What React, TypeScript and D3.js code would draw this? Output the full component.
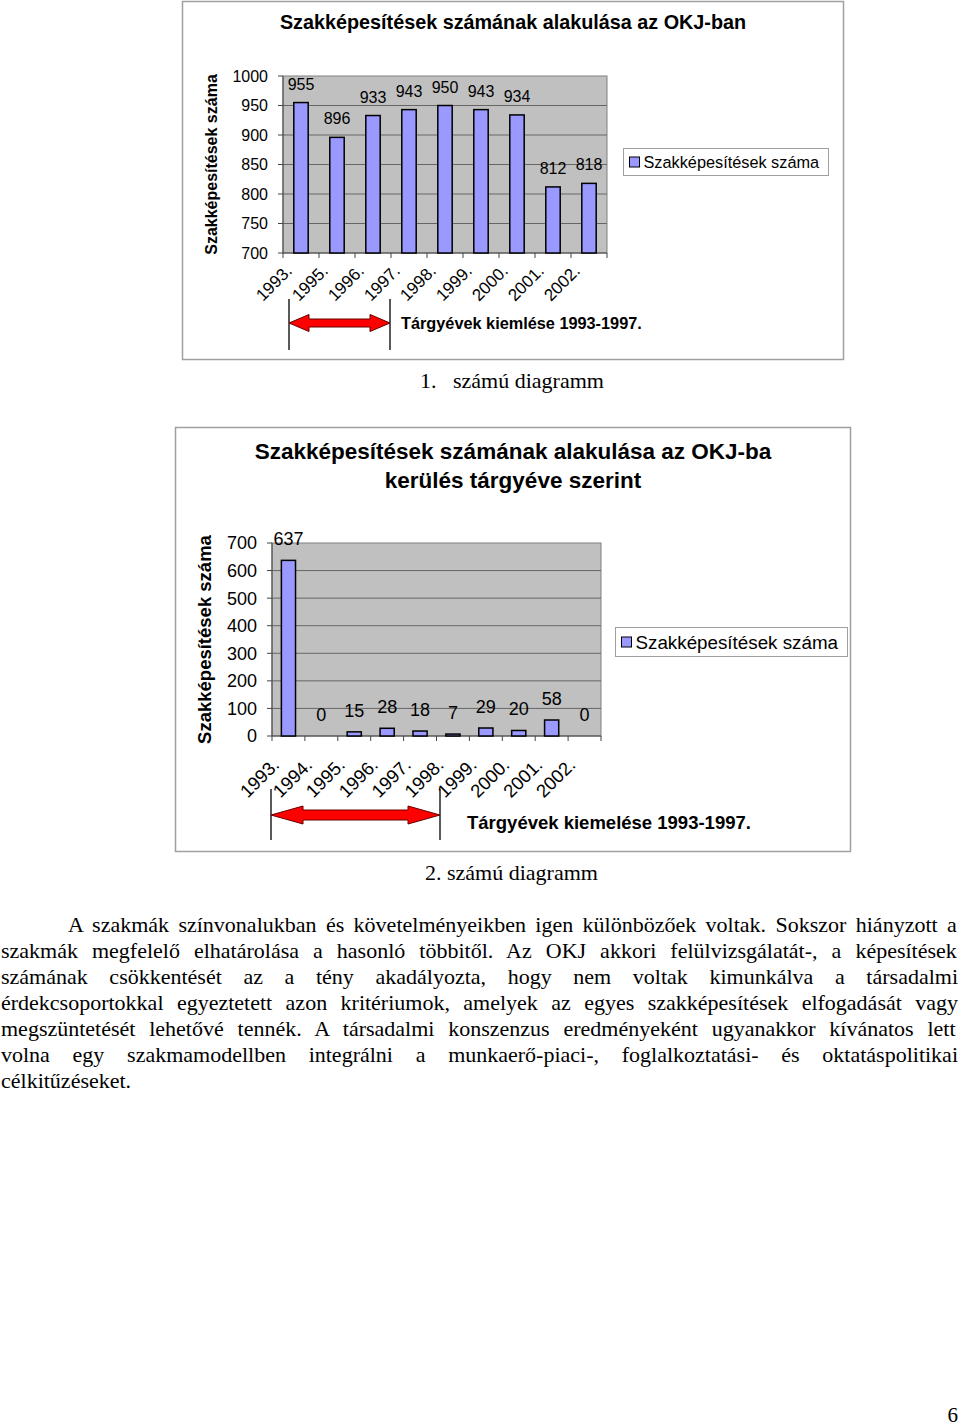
import React from 'react';
import * as d3 from 'd3';

// ---------- DATA ----------
const years1 = ['1993.', '1995.', '1996.', '1997.', '1998.', '1999.', '2000.', '2001.', '2002.'];
const values1 = [955, 896, 933, 943, 950, 943, 934, 812, 818];
const ticks1 = [700, 750, 800, 850, 900, 950, 1000];

const years2 = ['1993.', '1994.', '1995.', '1996.', '1997.', '1998.', '1999.', '2000.', '2001.', '2002.'];
const values2 = [637, 0, 15, 28, 18, 7, 29, 20, 58, 0];
const ticks2 = [0, 100, 200, 300, 400, 500, 600, 700];

const title1Lines = ['Szakképesítések számának alakulása az OKJ-ban'];
const title2Lines = ['Szakképesítések számának alakulása az OKJ-ba', 'kerülés tárgyéve szerint'];
const seriesName = 'Szakképesítések száma';
const axisTitle = 'Szakképesítések száma';
const note1 = 'Tárgyévek kiemlése 1993-1997.';
const note2 = 'Tárgyévek kiemelése 1993-1997.';
const caption1 = ['1.', 'számú diagramm'];
const caption2 = '2. számú diagramm';
const paragraphLines = [
  'A szakmák színvonalukban és követelményeikben igen különbözőek voltak. Sokszor hiányzott a',
  'szakmák megfelelő elhatárolása a hasonló többitől. Az OKJ akkori felülvizsgálatát-, a képesítések',
  'számának csökkentését az a tény akadályozta, hogy nem voltak kimunkálva a társadalmi',
  'érdekcsoportokkal egyeztetett azon kritériumok, amelyek az egyes szakképesítések elfogadását vagy',
  'megszüntetését lehetővé tennék. A társadalmi konszenzus eredményeként ugyanakkor kívánatos lett',
  'volna egy szakmamodellben integrálni a munkaerő-piaci-, foglalkoztatási- és oktatáspolitikai',
  'célkitűzéseket.',
];
const pageNumber = '6';

// ---------- STYLE ----------
const SANS = "'Liberation Sans', Arial, sans-serif";
const SERIF = "'Liberation Serif', 'Times New Roman', serif";
const BAR_FILL = '#9999FF';
const PLOT_BG = '#C0C0C0';
const FRAME = '#A0A0A0';

let _ctx: CanvasRenderingContext2D | null = null;
function measure(text: string, font: string): number {
  if (!_ctx) {
    const c = document.createElement('canvas');
    _ctx = c.getContext('2d');
  }
  if (!_ctx) return text.length * 9;
  _ctx.font = font;
  return _ctx.measureText(text).width;
}

type ChartCfg = {
  frame: { x: number; y: number; w: number; h: number };
  titleLines: string[];
  titleY: number;
  titleSize: number;
  titleLineH: number;
  plot: { x0: number; x1: number; y0: number; y1: number };
  domain: [number, number];
  ticks: number[];
  cats: string[];
  vals: number[];
  fontTick: number;
  fontLabel: number;
  fontCat: number;
  labelGap: number;
  catDx: number;
  catDy: number;
  axisTitleX: number;
  axisTitleSize: number;
  legend: { x: number; y: number; w: number; h: number; size: number };
  paddingInner: number;
};

function BarChart({ c }: { c: ChartCfg }) {
  const { plot } = c;
  const x = d3
    .scaleBand<string>()
    .domain(c.cats)
    .range([plot.x0, plot.x1])
    .paddingInner(c.paddingInner)
    .paddingOuter(c.paddingInner / 2);
  const y = d3.scaleLinear().domain(c.domain).range([plot.y1, plot.y0]);
  const step = (plot.x1 - plot.x0) / c.cats.length;
  const titleCx = c.frame.x + c.frame.w / 2;
  const midY = (plot.y0 + plot.y1) / 2;
  return (
    <g>
      <rect x={c.frame.x} y={c.frame.y} width={c.frame.w} height={c.frame.h} fill="#fff" stroke={FRAME} strokeWidth={1.5} />
      {c.titleLines.map((t, i) => (
        <text key={i} x={titleCx} y={c.titleY + i * c.titleLineH} textAnchor="middle" fontFamily={SANS} fontWeight="bold" fontSize={c.titleSize} fill="#000">
          {t}
        </text>
      ))}
      <rect x={plot.x0} y={plot.y0} width={plot.x1 - plot.x0} height={plot.y1 - plot.y0} fill={PLOT_BG} stroke="#808080" strokeWidth={1} />
      {c.ticks.map((t) => (
        <g key={t}>
          {t !== c.domain[0] && t !== c.domain[1] && (
            <line x1={plot.x0} x2={plot.x1} y1={y(t)} y2={y(t)} stroke="#666" strokeWidth={1} />
          )}
          <line x1={plot.x0 - 5} x2={plot.x0} y1={y(t)} y2={y(t)} stroke="#444" strokeWidth={1} />
          <text x={plot.x0 - 15} y={y(t)} dy="0.36em" textAnchor="end" fontFamily={SANS} fontSize={c.fontTick} fill="#000">
            {t}
          </text>
        </g>
      ))}
      <line x1={plot.x0} x2={plot.x0} y1={plot.y0} y2={plot.y1} stroke="#444" strokeWidth={1} />
      <line x1={plot.x0} x2={plot.x1} y1={plot.y1} y2={plot.y1} stroke="#444" strokeWidth={1} />
      {d3.range(c.cats.length + 1).map((i) => (
        <line key={i} x1={plot.x0 + i * step} x2={plot.x0 + i * step} y1={plot.y1} y2={plot.y1 + 5} stroke="#444" strokeWidth={1} />
      ))}
      {c.cats.map((cat, i) => {
        const v = c.vals[i];
        const bx = x(cat) as number;
        const top = y(Math.max(v, c.domain[0]));
        return (
          <g key={cat}>
            {v > c.domain[0] && (
              <rect x={bx} y={top} width={x.bandwidth()} height={plot.y1 - top} fill={BAR_FILL} stroke="#000" strokeWidth={1.5} />
            )}
            <text x={bx + x.bandwidth() / 2} y={top - c.labelGap} textAnchor="middle" fontFamily={SANS} fontSize={c.fontLabel} fill="#000">
              {v}
            </text>
            <text
              transform={`translate(${bx + x.bandwidth() / 2 + c.catDx},${plot.y1 + c.catDy}) rotate(-45)`}
              textAnchor="end"
              fontFamily={SANS}
              fontSize={c.fontCat}
              fill="#000"
            >
              {cat}
            </text>
          </g>
        );
      })}
      <text
        transform={`translate(${c.axisTitleX},${midY}) rotate(-90)`}
        textAnchor="middle"
        dy="0.36em"
        fontFamily={SANS}
        fontWeight="bold"
        fontSize={c.axisTitleSize}
        fill="#000"
      >
        {axisTitle}
      </text>
      <rect x={c.legend.x} y={c.legend.y} width={c.legend.w} height={c.legend.h} fill="#fff" stroke={FRAME} strokeWidth={1} />
      <rect
        x={c.legend.x + 6}
        y={c.legend.y + c.legend.h / 2 - 5}
        width={10}
        height={10}
        fill={BAR_FILL}
        stroke="#000"
        strokeWidth={1}
      />
      <text x={c.legend.x + 20} y={c.legend.y + c.legend.h / 2} dy="0.36em" fontFamily={SANS} fontSize={c.legend.size} fill="#000">
        {seriesName}
      </text>
    </g>
  );
}

function DoubleArrow({ xa, xb, cy, hl, hh, sh, lineTop, lineBot }: { xa: number; xb: number; cy: number; hl: number; hh: number; sh: number; lineTop: number; lineBot: number }) {
  const p = d3.path();
  p.moveTo(xa, cy);
  p.lineTo(xa + hl, cy - hh);
  p.lineTo(xa + hl, cy - sh);
  p.lineTo(xb - hl, cy - sh);
  p.lineTo(xb - hl, cy - hh);
  p.lineTo(xb, cy);
  p.lineTo(xb - hl, cy + hh);
  p.lineTo(xb - hl, cy + sh);
  p.lineTo(xa + hl, cy + sh);
  p.lineTo(xa + hl, cy + hh);
  p.closePath();
  return (
    <g>
      <line x1={xa} x2={xa} y1={lineTop} y2={lineBot} stroke="#000" strokeWidth={1.3} />
      <line x1={xb} x2={xb} y1={lineTop} y2={lineBot} stroke="#000" strokeWidth={1.3} />
      <path d={p.toString()} fill="#FF0000" stroke="#600" strokeWidth={1} />
    </g>
  );
}

const chart1: ChartCfg = {
  frame: { x: 182.5, y: 1.5, w: 661, h: 358 },
  titleLines: title1Lines,
  titleY: 29,
  titleSize: 19.8,
  titleLineH: 28,
  plot: { x0: 283, x1: 607, y0: 76, y1: 253 },
  domain: [700, 1000],
  ticks: ticks1,
  cats: years1,
  vals: values1,
  fontTick: 16,
  fontLabel: 16,
  fontCat: 17,
  labelGap: 13,
  catDx: -8,
  catDy: 19,
  axisTitleX: 211,
  axisTitleSize: 16,
  legend: { x: 623.5, y: 148.5, w: 205, h: 27, size: 16.3 },
  paddingInner: 0.6,
};

const chart2: ChartCfg = {
  frame: { x: 175.5, y: 427.5, w: 675, h: 424 },
  titleLines: title2Lines,
  titleY: 459,
  titleSize: 22.5,
  titleLineH: 29,
  plot: { x0: 272, x1: 601, y0: 543, y1: 736 },
  domain: [0, 700],
  ticks: ticks2,
  cats: years2,
  vals: values2,
  fontTick: 18,
  fontLabel: 18,
  fontCat: 18.5,
  labelGap: 15,
  catDx: -8,
  catDy: 30,
  axisTitleX: 204,
  axisTitleSize: 18.5,
  legend: { x: 615.5, y: 627.5, w: 232, h: 29, size: 18.8 },
  paddingInner: 0.57,
};

function Paragraph() {
  const size = 22;
  const font = `${size}px ${SERIF}`;
  const left = 1;
  const right = 958;
  const indent = 68;
  const baseline0 = 932;
  const lh = 26;
  return (
    <g>
      {paragraphLines.map((line, i) => {
        const start = i === 0 ? indent : left;
        const last = i === paragraphLines.length - 1;
        const words = line.split(' ');
        let ws = 0;
        if (!last && words.length > 1) {
          const w = measure(line, font);
          ws = (right - start - w) / (words.length - 1);
        }
        return (
          <text key={i} x={start} y={baseline0 + i * lh} fontFamily={SERIF} fontSize={size} fill="#000" style={{ wordSpacing: `${ws}px` }}>
            {line}
          </text>
        );
      })}
    </g>
  );
}

export default function App() {
  return (
    <svg width={960} height={1426} viewBox="0 0 960 1426" style={{ position: 'absolute', left: 0, top: 0, background: '#fff' }}>
      <rect x={0} y={0} width={960} height={1426} fill="#fff" />
      <BarChart c={chart1} />
      <DoubleArrow xa={289} xb={390} cy={323} hl={20} hh={8.5} sh={4} lineTop={299} lineBot={350} />
      <text x={401} y={323} dy="0.36em" fontFamily={SANS} fontWeight="bold" fontSize={16.3} fill="#000">
        {note1}
      </text>
      <text x={420} y={388} fontFamily={SERIF} fontSize={22} fill="#000">
        {caption1[0]}
      </text>
      <text x={453} y={388} fontFamily={SERIF} fontSize={22} fill="#000">
        {caption1[1]}
      </text>

      <BarChart c={chart2} />
      <DoubleArrow xa={271} xb={440} cy={815} hl={32} hh={9} sh={5} lineTop={789} lineBot={840} />
      <text x={467} y={822} dy="0.36em" fontFamily={SANS} fontWeight="bold" fontSize={18.5} fill="#000">
        {note2}
      </text>
      <text x={425} y={880} fontFamily={SERIF} fontSize={22} fill="#000">
        {caption2}
      </text>

      <Paragraph />
      <text x={958} y={1422} textAnchor="end" fontFamily={SERIF} fontSize={21} fill="#000">
        {pageNumber}
      </text>
    </svg>
  );
}
